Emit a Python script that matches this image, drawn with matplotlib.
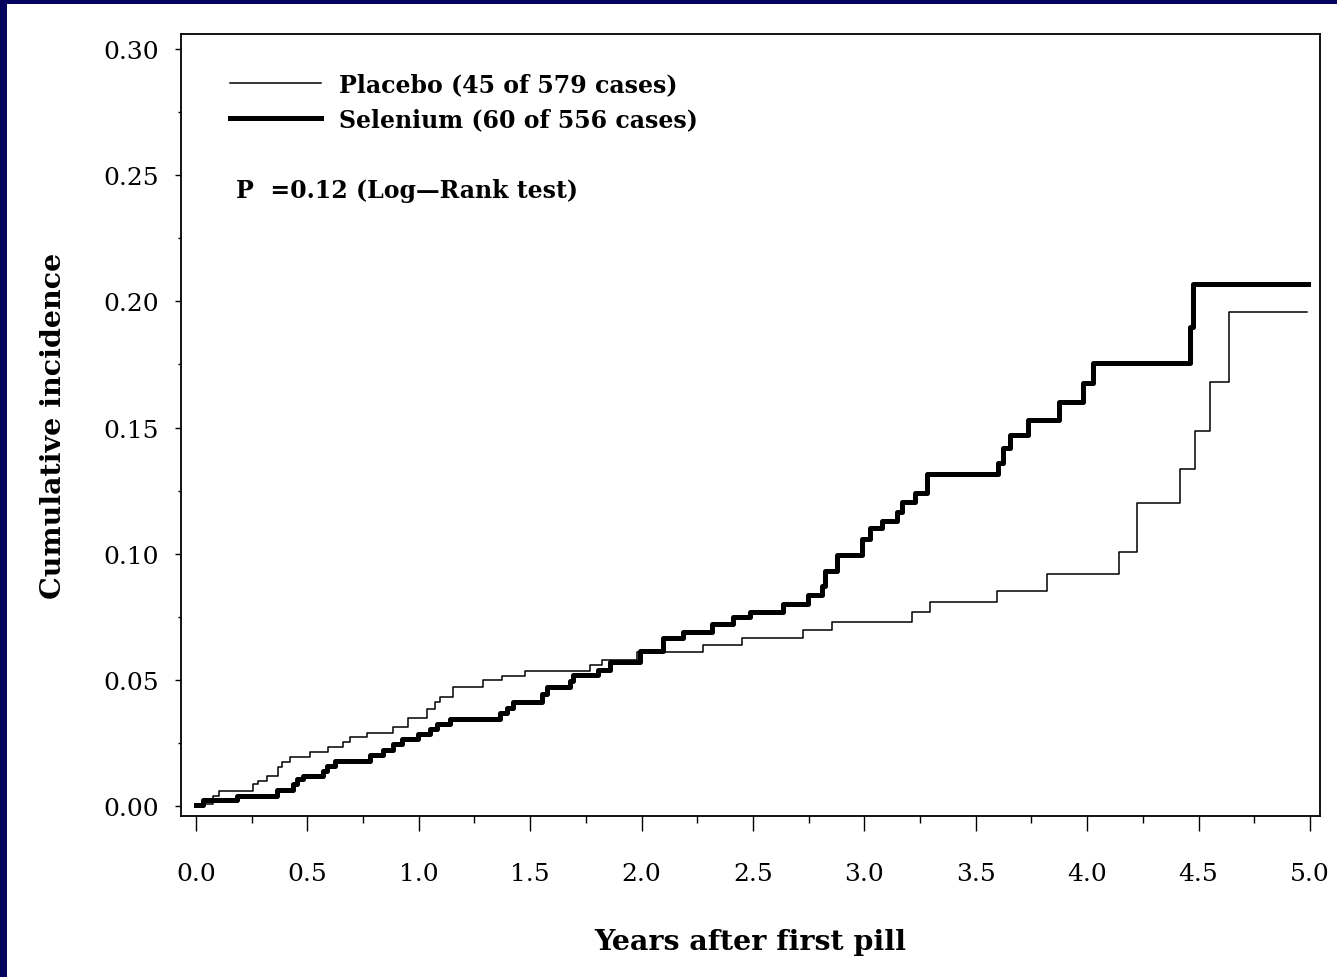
import matplotlib
matplotlib.use("Agg")
import matplotlib.pyplot as plt
from matplotlib.ticker import MultipleLocator, FormatStrFormatter
from matplotlib.patches import Rectangle

# ---- data ----
selenium_t = [0.000, 0.031, 0.184, 0.364, 0.435, 0.453, 0.480, 0.570, 0.588, 0.624,
              0.781, 0.839, 0.884, 0.925, 0.996, 1.050, 1.082, 1.140, 1.364, 1.396,
              1.423, 1.553, 1.575, 1.679, 1.692, 1.804, 1.858, 1.993, 2.096, 2.186,
              2.316, 2.410, 2.487, 2.635, 2.747, 2.810, 2.823, 2.877, 2.989, 3.025,
              3.079, 3.146, 3.169, 3.227, 3.281, 3.600, 3.622, 3.654, 3.734, 3.873,
              3.981, 4.026, 4.461, 4.475, 4.991]
selenium_y = [0.0004, 0.0024, 0.0040, 0.0063, 0.0087, 0.0107, 0.0120, 0.0139, 0.0158, 0.0180,
              0.0202, 0.0222, 0.0246, 0.0265, 0.0285, 0.0305, 0.0325, 0.0345, 0.0370, 0.0390,
              0.0410, 0.0444, 0.0470, 0.0495, 0.0520, 0.0540, 0.0570, 0.0614, 0.0665, 0.0690,
              0.0720, 0.0750, 0.0770, 0.0800, 0.0836, 0.0870, 0.0930, 0.0995, 0.1060, 0.1100,
              0.1130, 0.1165, 0.1204, 0.1240, 0.1315, 0.1360, 0.1420, 0.1470, 0.1530, 0.1600,
              0.1676, 0.1755, 0.1900, 0.2068, 0.2068]

placebo_t = [0.000, 0.076, 0.103, 0.256, 0.278, 0.319, 0.368, 0.386, 0.422, 0.512,
             0.592, 0.660, 0.691, 0.768, 0.884, 0.952, 1.037, 1.073, 1.095, 1.153,
             1.288, 1.373, 1.477, 1.768, 1.822, 1.979, 2.276, 2.451, 2.724, 2.855,
             3.214, 3.294, 3.595, 3.820, 4.143, 4.223, 4.416, 4.484, 4.551, 4.636,
             4.987]
placebo_y = [0.0008, 0.0040, 0.0060, 0.0087, 0.0100, 0.0120, 0.0155, 0.0174, 0.0194, 0.0214,
             0.0234, 0.0254, 0.0273, 0.0290, 0.0313, 0.0350, 0.0384, 0.0410, 0.0430, 0.0470,
             0.0500, 0.0515, 0.0535, 0.0560, 0.0580, 0.0610, 0.0638, 0.0666, 0.0697, 0.0730,
             0.0768, 0.0808, 0.0852, 0.0920, 0.1006, 0.1200, 0.1335, 0.1486, 0.1680, 0.1957,
             0.1957]

series_labels = ["Placebo (45 of 579 cases)", "Selenium (60 of 556 cases)"]
p_text = "P  =0.12 (Log\u2014Rank test)"
x_ticks = [0.0, 0.5, 1.0, 1.5, 2.0, 2.5, 3.0, 3.5, 4.0, 4.5, 5.0]
y_ticks = [0.00, 0.05, 0.10, 0.15, 0.20, 0.25, 0.30]
x_label = "Years after first pill"
y_label = "Cumulative incidence"

# ---- figure ----
plt.rcParams['font.family'] = ['DejaVu Serif']
fig = plt.figure(figsize=(13.37, 9.78), dpi=100)
fig.patch.set_facecolor('white')

navy = '#04045e'
fig.patches.append(Rectangle((0, 0), 7 / 1337, 1, transform=fig.transFigure,
                             facecolor=navy, edgecolor='none', zorder=10))
fig.patches.append(Rectangle((0, 1 - 5 / 978), 1, 5 / 978, transform=fig.transFigure,
                             facecolor=navy, edgecolor='none', zorder=10))

ax = fig.add_axes([181 / 1337, (978 - 817) / 978, (1320 - 181) / 1337, (817 - 35) / 978])

ax.step(placebo_t, placebo_y, where='post', color='black', lw=1.1, label=series_labels[0])
ax.step(selenium_t, selenium_y, where='post', color='black', lw=3.6, label=series_labels[1])

ax.set_xlim(-0.067, 5.045)
ax.set_ylim(-0.004, 0.306)
ax.set_xticks(x_ticks)
ax.set_yticks(y_ticks)
ax.xaxis.set_major_formatter(FormatStrFormatter('%.1f'))
ax.yaxis.set_major_formatter(FormatStrFormatter('%.2f'))
ax.xaxis.set_minor_locator(MultipleLocator(0.25))
ax.yaxis.set_minor_locator(MultipleLocator(0.025))

ax.tick_params(axis='x', which='major', direction='out', length=11, width=1.0,
               pad=22, labelsize=18)
ax.tick_params(axis='x', which='minor', direction='out', length=5, width=1.0)
ax.tick_params(axis='y', which='major', direction='out', length=4, width=1.0,
               pad=12, labelsize=18)
ax.tick_params(axis='y', which='minor', direction='out', length=2, width=1.0)
for s in ax.spines.values():
    s.set_linewidth(1.3)

ax.set_xlabel(x_label, fontsize=20.5, fontweight='bold', labelpad=31)
ax.set_ylabel(y_label, fontsize=20.5, fontweight='bold', labelpad=26)

leg = ax.legend(loc='upper left', bbox_to_anchor=(0.035, 0.963), frameon=False,
                prop={'size': 17, 'weight': 'bold'}, handlelength=3.85,
                handletextpad=0.75, labelspacing=0.46, borderaxespad=0)

ax.text(0.048, 0.80, p_text, transform=ax.transAxes, fontsize=17,
        fontweight='bold', va='center', ha='left')

fig.savefig('out.png', dpi=100, facecolor=fig.get_facecolor())
